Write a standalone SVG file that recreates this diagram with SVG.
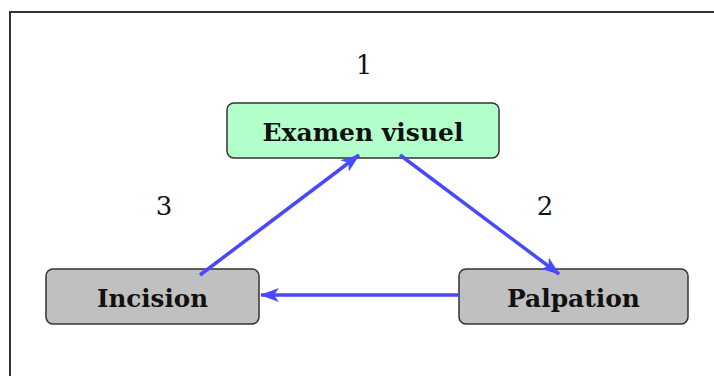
<svg xmlns="http://www.w3.org/2000/svg" width="714" height="376" viewBox="0 0 714 376">
<defs>
<style>
.frame{fill:#fff;stroke:#333;stroke-width:2}
.box{stroke:#333;stroke-width:1.5}
.green{fill:#b3ffcc}
.grey{fill:#c0c0c0}
.lbl{font-family:"DejaVu Serif","Liberation Serif",serif;font-weight:bold;font-size:24.5px;fill:#111;text-anchor:middle}
.num{font-family:"DejaVu Serif","Liberation Serif",serif;font-size:26px;fill:#111;text-anchor:middle}
.conn{stroke:#4848ff;stroke-width:3.5;fill:none;marker-end:url(#ah)}
</style>
<marker id="ah" markerWidth="19" markerHeight="15" refX="18" refY="7.5" orient="auto" markerUnits="userSpaceOnUse" viewBox="0 0 19 15">
<path d="M0,0.5 L19,7.5 L0,14.5 L5,7.5 Z" fill="#4848ff"/>
</marker>
</defs>
<rect class="frame" x="10" y="12" width="720" height="380"/>
<g id="node-examen">
<rect class="box green" x="227" y="103" width="272" height="55" rx="7"/>
<text class="lbl" x="363" y="141" textLength="201" lengthAdjust="spacingAndGlyphs">Examen visuel</text>
</g>
<g id="node-palpation">
<rect class="box grey" x="459" y="269" width="229" height="55" rx="7"/>
<text class="lbl" x="573.5" y="307" textLength="133" lengthAdjust="spacingAndGlyphs">Palpation</text>
</g>
<g id="node-incision">
<rect class="box grey" x="46" y="269" width="213" height="55" rx="7"/>
<text class="lbl" x="152.5" y="307" textLength="111" lengthAdjust="spacingAndGlyphs">Incision</text>
</g>
<g id="connectors">
<line class="conn" x1="400" y1="155" x2="559" y2="274"/>
<line class="conn" x1="459" y1="295" x2="261" y2="295"/>
<line class="conn" x1="200" y1="275" x2="359" y2="155"/>
</g>
<g id="labels">
<text class="num" x="364" y="74">1</text>
<text class="num" x="545" y="215">2</text>
<text class="num" x="164" y="215">3</text>
</g>
</svg>
